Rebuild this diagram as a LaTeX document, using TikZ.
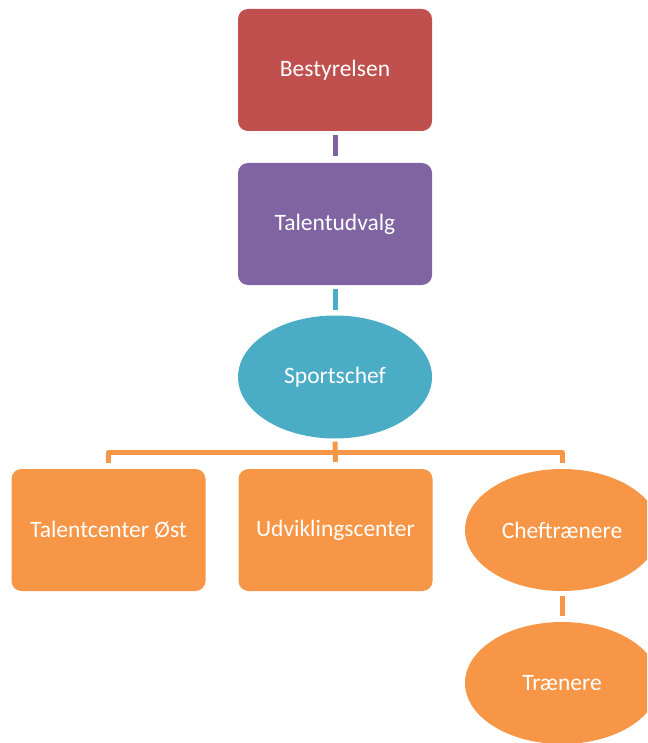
\documentclass[tikz,border=0pt]{standalone}
\usepackage{fontspec}
\setmainfont{Carlito}
\usetikzlibrary{shapes.geometric,calc}
\definecolor{cred}{HTML}{C0504D}
\definecolor{cpurple}{HTML}{8064A2}
\definecolor{cteal}{HTML}{4BACC6}
\definecolor{corange}{HTML}{F79646}
\tikzset{
  base/.style={inner sep=0pt, text=white, font=\fontsize{23.5}{28}\selectfont,
    minimum width=194pt, minimum height=122pt},
  boxnode/.style={base, rectangle, rounded corners=10pt},
  ellnode/.style={base, ellipse},
  conn/.style={line width=5pt},
}
\begin{document}
\begin{tikzpicture}[x=1pt,y=-1pt]
\useasboundingbox (0,0) rectangle (647,743);
\clip (0,0) rectangle (647,743);
\node[boxnode, fill=cred] (b) at (335,70) {Bestyrelsen};
\node[boxnode, fill=cpurple] (t) at (335,224) {Talentudvalg};
\node[ellnode, fill=cteal, minimum height=123pt] (s) at (335,377) {Sportschef};
\node[boxnode, fill=corange] (tc) at (108.5,530) {Talentcenter Øst};
\node[boxnode, fill=corange] (u) at (335.5,530) {Udviklingscenter};
\node[ellnode, fill=corange] (c) at (562,530) {Cheftrænere};
\node[ellnode, fill=corange] (tr) at (562,683) {Trænere};
\draw[conn, cpurple] ([yshift=-4pt]b.south) -- ([yshift=7pt]t.north);
\draw[conn, cteal] ([yshift=-4pt]t.south) -- ([yshift=5pt]s.north);
\draw[conn, corange] ([yshift=-3pt]s.south) -- ([yshift=7pt]u.north);
\draw[conn, corange, line join=round] ([yshift=6pt]tc.north) -- ([yshift=16pt]tc.north) -| ([yshift=6pt]c.north);
\draw[conn, corange] ([yshift=-5pt]c.south) -- ([yshift=6pt]tr.north);
\end{tikzpicture}
\end{document}
